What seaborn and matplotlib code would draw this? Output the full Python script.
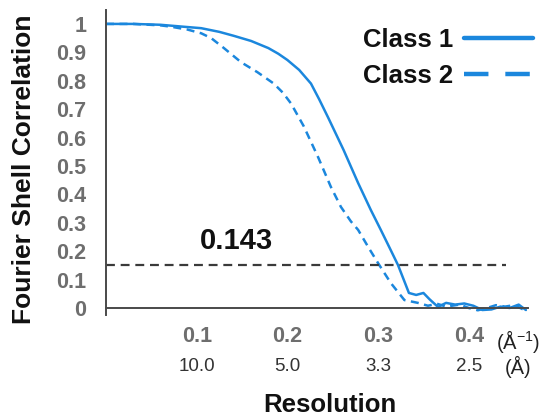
import numpy as np
import pandas as pd
import matplotlib
matplotlib.use("Agg")
import matplotlib.pyplot as plt
import matplotlib.transforms as mtransforms
from matplotlib.lines import Line2D
import seaborn as sns

# ---------------- data ----------------
class1_x = [0.0, 0.03, 0.06, 0.086, 0.105, 0.125, 0.141, 0.16, 0.179, 0.19, 0.2,
            0.213, 0.226, 0.235, 0.245, 0.262, 0.278, 0.292, 0.303, 0.313, 0.322,
            0.334, 0.342, 0.35, 0.357, 0.366, 0.375, 0.385, 0.395, 0.405, 0.415,
            0.425, 0.435, 0.445, 0.455, 0.463]
class1_y = [1.0, 1.0, 0.997, 0.99, 0.985, 0.972, 0.958, 0.94, 0.915, 0.895, 0.873,
            0.838, 0.79, 0.735, 0.67, 0.556, 0.44, 0.345, 0.275, 0.21, 0.151,
            0.053, 0.046, 0.053, 0.03, 0.004, 0.018, 0.012, 0.016, 0.008, -0.007,
            -0.005, 0.005, 0.0, 0.012, -0.007]
class2_x = [0.0, 0.03, 0.06, 0.072, 0.09, 0.105, 0.116, 0.13, 0.149, 0.167, 0.185,
            0.195, 0.204, 0.218, 0.234, 0.248, 0.259, 0.27, 0.278, 0.29, 0.3,
            0.314, 0.329, 0.344, 0.355, 0.365, 0.375, 0.39, 0.40, 0.41, 0.42,
            0.43, 0.44, 0.45, 0.46]
class2_y = [1.0, 1.0, 0.995, 0.99, 0.98, 0.967, 0.95, 0.915, 0.865, 0.83, 0.79,
            0.758, 0.72, 0.64, 0.53, 0.426, 0.356, 0.305, 0.275, 0.21, 0.158,
            0.088, 0.028, 0.018, 0.008, 0.015, 0.005, 0.012, 0.0, -0.008, 0.0,
            0.01, 0.005, 0.01, -0.005]
series_names = ["Class 1", "Class 2"]

threshold = 0.143
threshold_line_y = 0.15
threshold_xmax = 0.441

freq_ticks = [0.1, 0.2, 0.3, 0.4]
freq_labels = ["0.1", "0.2", "0.3", "0.4"]
res_labels = ["10.0", "5.0", "3.3", "2.5"]
y_ticks = [0, 0.1, 0.2, 0.3, 0.4, 0.5, 0.6, 0.7, 0.8, 0.9, 1]
y_labels = ["0", "0.1", "0.2", "0.3", "0.4", "0.5", "0.6", "0.7", "0.8", "0.9", "1"]

df = pd.concat([
    pd.DataFrame({"x": class1_x, "y": class1_y, "cls": series_names[0]}),
    pd.DataFrame({"x": class2_x, "y": class2_y, "cls": series_names[1]}),
])

# ---------------- style ----------------
sns.set_style("white")
plt.rcParams["font.family"] = ["Liberation Sans", "DejaVu Sans"]
plt.rcParams["mathtext.fontset"] = "custom"
plt.rcParams["mathtext.rm"] = "Liberation Sans"

BLUE = "#1b87dd"
SPINE = "#4a4a4a"
TICKGREY = "#6e6e6e"

W, H = 550, 417
fig = plt.figure(figsize=(5.5, 4.17), dpi=100)
ax = fig.add_axes([106 / W, 1 - 315 / H, 422 / W, 305 / H])

sns.lineplot(data=df, x="x", y="y", hue="cls", style="cls",
             palette=[BLUE, BLUE], dashes={"Class 1": "", "Class 2": (3.2, 2.2)},
             linewidth=1.8, sort=False, estimator=None, ax=ax, legend=False)

ax.hlines(threshold_line_y, 0, threshold_xmax, colors="#3a3a3a",
          linestyles=(0, (4, 2.6)), linewidth=1.6)
ax.text(0.144, 0.236, f"{threshold:.3f}", ha="center", va="center",
        fontsize=21, fontweight="bold", color="#111111")

ax.set_xlim(0, 0.4653)
ax.set_ylim(-0.0246, 1.049)
ax.spines["bottom"].set_position(("data", 0))
ax.spines["top"].set_visible(False)
ax.spines["right"].set_visible(False)
for s in ("left", "bottom"):
    ax.spines[s].set_color(SPINE)
    ax.spines[s].set_linewidth(1.4)

ax.set_yticks(y_ticks)
ax.set_yticklabels(y_labels)
ax.set_xticks(freq_ticks)
ax.set_xticklabels(freq_labels)
ax.tick_params(axis="y", direction="in", length=5, width=1.3, color=SPINE,
               pad=14, labelsize=15.5, labelcolor=TICKGREY)
ax.tick_params(axis="x", direction="out", length=4, width=1.3, color=SPINE,
               pad=9, labelsize=15.5, labelcolor=TICKGREY)
for lab in ax.get_xticklabels() + ax.get_yticklabels():
    lab.set_fontweight("bold")

# second row: resolution in Å
trans = mtransforms.blended_transform_factory(ax.transData, ax.transAxes)
for xv, lab in zip(freq_ticks, res_labels):
    ax.text(xv, -0.170, lab, transform=trans, ha="center", va="center",
            fontsize=13.5, color="#333333")
ax.text(0.976, -0.088, "(Å$^{\\mathregular{-1}}$)", transform=ax.transAxes,
        ha="center", va="center", fontsize=14.5, color="#222222", clip_on=False)
ax.text(0.976, -0.172, "(Å)", transform=ax.transAxes, ha="center", va="center",
        fontsize=14.5, color="#222222", clip_on=False)

ax.set_xlabel("Resolution", fontsize=18.5, fontweight="bold", color="#111111")
ax.xaxis.set_label_coords((330 - 106) / 422, (315 - 405) / 305)
ax.xaxis.label.set_va("center")
ax.set_ylabel("Fourier Shell Correlation", fontsize=19, fontweight="bold",
              color="#111111")
ax.yaxis.set_label_coords((36 - 106) / 422, (315 - 169) / 305)

# legend
handles = [Line2D([], [], color=BLUE, linewidth=3.2),
           Line2D([], [], color=BLUE, linewidth=3.2, dashes=(5.5, 3.8))]
leg = ax.legend(handles, series_names, loc="upper right", frameon=False,
                markerfirst=False, handlelength=2.7, handletextpad=0.4,
                labelspacing=0.46, borderpad=0, borderaxespad=0,
                bbox_to_anchor=(533 / W, 1 - 28 / H),
                bbox_transform=fig.transFigure,
                prop={"size": 18.5, "weight": "bold"})
for t in leg.get_texts():
    t.set_color("#111111")

fig.savefig("out.png", dpi=100)
